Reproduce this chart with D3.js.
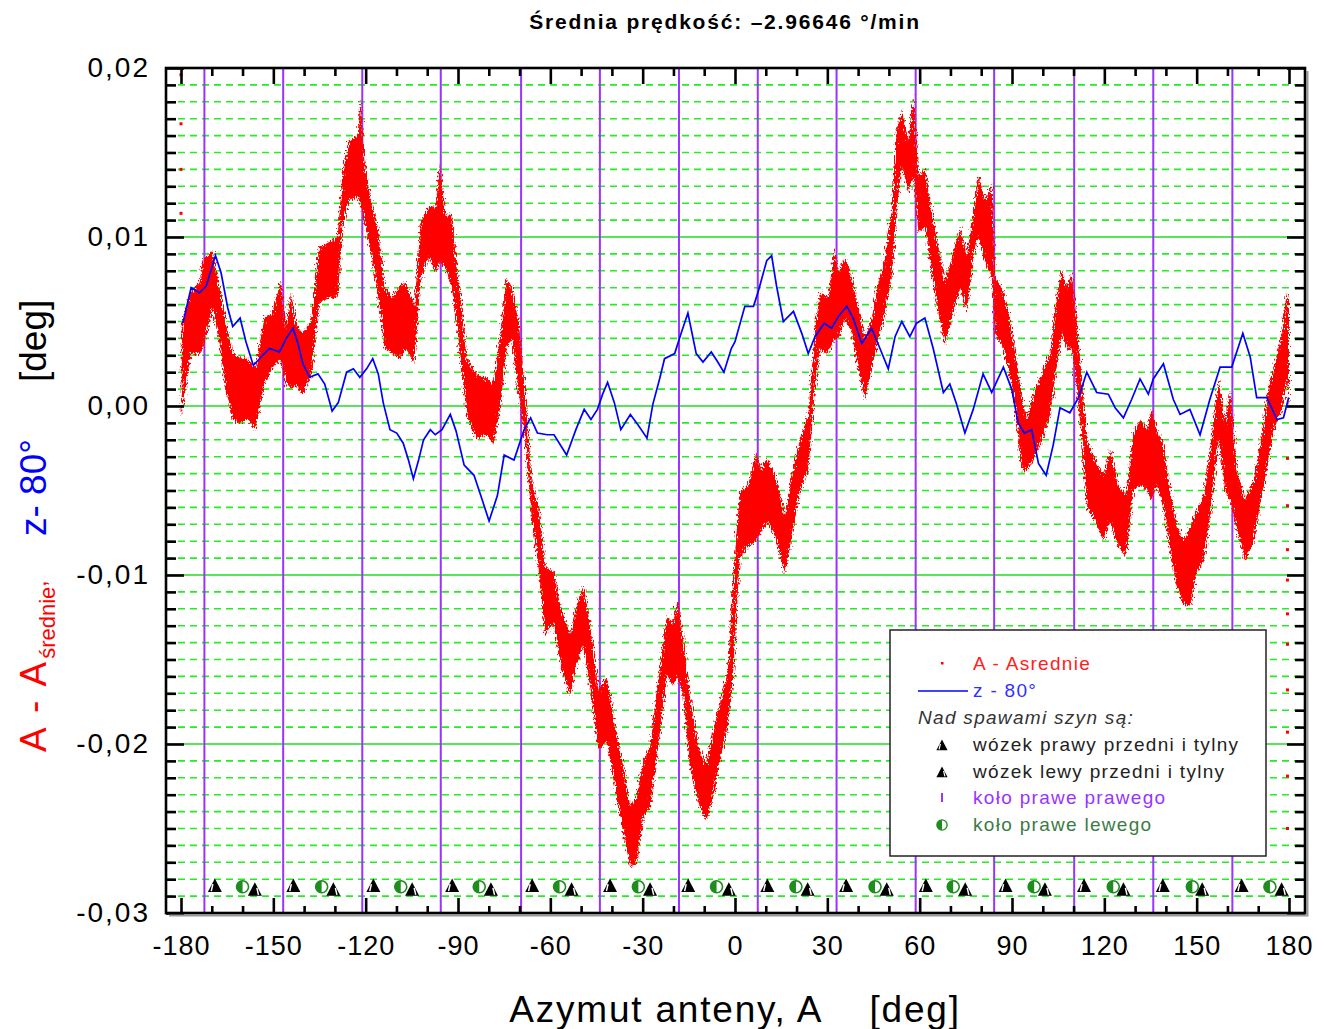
<!DOCTYPE html>
<html>
<head>
<meta charset="utf-8">
<script src="https://cdn.jsdelivr.net/npm/d3@7"></script>
<style>
  body { margin: 0; background: #fff; }
  svg text { font-family: "Liberation Sans", Arial, sans-serif; }
</style>
</head>
<body>
<div id="chart"></div>
<script>
// z - 80 (blue line), azimuth [deg] and value [deg]
var zAz = [-179.4, -176.7, -174, -171.8, -168.8, -167, -164.8, -163.2, -160.8, -158.9, -156.5, -154, -151.3, -148, -145.8,
    -143.6, -142, -140.4, -138.2, -135.5, -133.3, -130.9, -128.9, -126.2, -124, -121.9, -119.7, -117.7, -115.9, -114.3,
    -112.1, -109.9, -107.8, -106.1, -104.5, -102.8, -101.2, -99, -97.4, -95.2, -92.5, -90.6, -88, -84.8, -82.6, -79.9,
    -77.2, -75, -71.8, -68.5, -66.4, -64.2, -61, -58.8, -54.7, -51.7, -49, -46.8, -44.7, -43, -41.4, -39.2, -37.1, -34,
    -31.6, -28.6, -26.7, -24.5, -22.9, -19.6, -17.5, -15.3, -12.6, -10.4, -7.7, -5.6, -3.6, -1.2, 0, 3.2, 6, 7.6, 10.3,
    11.9, 13.5, 15.7, 19, 21.7, 23.8, 26, 29, 31.4, 33.6, 36.3, 38.4, 41.2, 44.4, 47.1, 49.8, 52, 54.2, 56.8, 59, 61.7,
    64.4, 67.7, 69.8, 72, 74.7, 77.4, 80.6, 83.4, 87.2, 89.9, 92, 94, 96.4, 98.6, 101.1, 103.4, 105.6, 108.8, 111.6,
    114.3, 117.5, 121.3, 123.5, 126.2, 128.9, 131.6, 134.3, 135.9, 139.2, 142.4, 144.6, 147.8, 151.1, 154.3, 157.6,
    161.4, 165, 167.4, 169.5, 172.8, 176.1, 178.2, 179.9];
var zVal = [0.0049, 0.0070, 0.0067, 0.0071, 0.0089, 0.0079, 0.0058, 0.0047, 0.0052, 0.0038, 0.0024, 0.0029, 0.0034,
    0.0032, 0.0040, 0.0046, 0.0037, 0.0025, 0.0017, 0.0019, 0.0013, -0.0003, 0.0002, 0.0020, 0.0022, 0.0017, 0.0022,
    0.0028, 0.0019, 0.0002, -0.0014, -0.0016, -0.0022, -0.0032, -0.0043, -0.0032, -0.0020, -0.0014, -0.0017, -0.0014,
    -0.0005, -0.0015, -0.0035, -0.0041, -0.0053, -0.0068, -0.0053, -0.0029, -0.0032, -0.0014, -0.0007, -0.0016,
    -0.0017, -0.0017, -0.0029, -0.0014, -0.0002, -0.0008, -0.0002, 0.0007, 0.0014, 0.0002, -0.0014, -0.0005, -0.0011,
    -0.0019, 0.0001, 0.0016, 0.0028, 0.0031, 0.0043, 0.0055, 0.0031, 0.0026, 0.0032, 0.0026, 0.0020, 0.0034, 0.0038,
    0.0059, 0.0059, 0.0068, 0.0086, 0.0089, 0.0071, 0.0050, 0.0056, 0.0043, 0.0031, 0.0041, 0.0049, 0.0046, 0.0053,
    0.0059, 0.0052, 0.0037, 0.0046, 0.0034, 0.0022, 0.0041, 0.0050, 0.0041, 0.0049, 0.0052, 0.0034, 0.0008, 0.0013,
    0.0001, -0.0016, -0.0002, 0.0019, 0.0008, 0.0023, 0.0010, -0.0010, -0.0016, -0.0014, -0.0034, -0.0041, -0.0023,
    -0.0001, -0.0004, 0.0005, 0.0020, 0.0008, 0.0007, -0.0001, -0.0007, 0.0004, 0.0016, 0.0007, 0.0016, 0.0025, 0.0004,
    -0.0005, -0.0002, -0.0017, 0.0004, 0.0023, 0.0023, 0.0043, 0.0029, 0.0005, 0.0005, -0.0008, -0.0007, 0.0005];

// A - Asrednie (red scatter band): azimuth, upper and lower edge of the band [deg]
var aAz = [-179.8, -176.9, -174, -172.9, -169.7, -167.5, -165.4, -163.2, -161.1, -158.4, -155.7, -153, -150.3, -147.6,
    -145.9, -144.3, -142.7, -140.5, -137.8, -135.1, -131.8, -129.1, -127.5, -125.3, -122.6, -121.7, -120.4, -118.3,
    -116.1, -113.9, -111.2, -109.1, -106.9, -104.2, -102.1, -99.4, -97.2, -95.9, -94, -92, -90.4, -88.8, -87.2, -84,
    -80.7, -78.5, -76.4, -74.2, -72.6, -70.4, -68.2, -66.1, -63.9, -61.7, -59, -56.3, -53.6, -51.4, -49.3, -46.6,
    -44.4, -41.7, -39, -36.3, -34.1, -32, -29.8, -27.6, -24.9, -22.2, -20.1, -18.7, -16.8, -14.7, -12, -9.3, -7.1, -5,
    -2.3, -0.5, 1.6, 4.3, 6.7, 8.7, 10.3, 13, 16.3, 18.4, 21.1, 23.8, 26, 27.6, 30.3, 32.3, 33.6, 35.7, 37.9, 40.1, 42.2,
    44.4, 46.6, 48.7, 50.9, 52.5, 54.2, 56.3, 58, 59.6, 61.8, 63.9, 66.1, 68.3, 70.4, 73.2, 75.3, 77.5, 79.1, 81.3, 83.4,
    84.5, 86.7, 88.9, 91.1, 93.2, 94.8, 96.9, 99.7, 102.4, 104.6, 106.2, 107.8, 109.4, 111.1, 112.7, 114.3, 117, 119.7,
    121.9, 124.6, 127.1, 129.4, 131.6, 133.8, 135.4, 137.1, 139.2, 141.4, 143.6, 145.7, 147.9, 150.1, 152.2, 154.4,
    157.1, 159.3, 160.9, 163.1, 165.8, 168.5, 171.2, 173.3, 175, 177.7, 179.3, 180];
var aHigh = [0.0048, 0.0067, 0.0073, 0.0086, 0.0092, 0.0070, 0.0049, 0.0031, 0.0029, 0.0028, 0.0023, 0.0052, 0.0055,
    0.0074, 0.0046, 0.0067, 0.0049, 0.0043, 0.0050, 0.0094, 0.0097, 0.0100, 0.0139, 0.0157, 0.0160, 0.0182, 0.0145,
    0.0121, 0.0106, 0.0070, 0.0064, 0.0071, 0.0073, 0.0059, 0.0109, 0.0118, 0.0118, 0.0143, 0.0112, 0.0114, 0.0082,
    0.0058, 0.0028, 0.0019, 0.0016, 0.0013, 0.0040, 0.0076, 0.0070, 0.0052, 0.0010, -0.0044, -0.0059, -0.0095, -0.0098,
    -0.0122, -0.0135, -0.0117, -0.0106, -0.0135, -0.0168, -0.0160, -0.0189, -0.0213, -0.0237, -0.0231, -0.0210,
    -0.0201, -0.0162, -0.0125, -0.0128, -0.0115, -0.0138, -0.0171, -0.0201, -0.0213, -0.0192, -0.0177, -0.0156,
    -0.0100, -0.0050, -0.0047, -0.0028, -0.0038, -0.0031, -0.0041, -0.0065, -0.0041, -0.0020, -0.0005, 0.0046, 0.0067,
    0.0064, 0.0094, 0.0079, 0.0088, 0.0076, 0.0058, 0.0040, 0.0052, 0.0073, 0.0088, 0.0115, 0.0163, 0.0175, 0.0157,
    0.0185, 0.0136, 0.0140, 0.0115, 0.0094, 0.0073, 0.0088, 0.0106, 0.0088, 0.0115, 0.0137, 0.0121, 0.0132, 0.0076,
    0.0070, 0.0055, 0.0031, 0.0005, -0.0008, 0.0007, 0.0019, 0.0031, 0.0064, 0.0082, 0.0070, 0.0079, 0.0049, 0.0016,
    -0.0020, -0.0032, -0.0041, -0.0026, -0.0047, -0.0053, -0.0017, -0.0008, -0.0014, -0.0002, -0.0014, -0.0023,
    -0.0050, -0.0071, -0.0080, -0.0071, -0.0062, -0.0053, -0.0026, 0.0016, -0.0011, 0.0010, -0.0038, -0.0056, -0.0044,
    -0.0017, 0.0010, 0.0022, 0.0043, 0.0067, 0.0064];
var aLow = [-0.0008, 0.0031, 0.0031, 0.0034, 0.0058, 0.0037, 0.0010, -0.0008, -0.0010, -0.0008, -0.0014, 0.0013, 0.0022,
    0.0028, 0.0013, 0.0010, 0.0013, 0.0007, 0.0017, 0.0061, 0.0064, 0.0064, 0.0106, 0.0122, 0.0124, 0.0120, 0.0109,
    0.0091, 0.0067, 0.0034, 0.0031, 0.0028, 0.0034, 0.0025, 0.0076, 0.0088, 0.0079, 0.0085, 0.0082, 0.0070, 0.0049,
    0.0022, -0.0005, -0.0020, -0.0017, -0.0023, -0.0002, 0.0034, 0.0040, 0.0010, -0.0020, -0.0065, -0.0095, -0.0135,
    -0.0128, -0.0156, -0.0171, -0.0153, -0.0141, -0.0171, -0.0204, -0.0198, -0.0225, -0.0252, -0.0273, -0.0270,
    -0.0243, -0.0237, -0.0201, -0.0159, -0.0165, -0.0160, -0.0171, -0.0213, -0.0234, -0.0246, -0.0231, -0.0210,
    -0.0189, -0.0156, -0.0089, -0.0083, -0.0080, -0.0074, -0.0068, -0.0077, -0.0100, -0.0077, -0.0050, -0.0038, 0.0010,
    0.0034, 0.0031, 0.0040, 0.0040, 0.0052, 0.0043, 0.0022, 0.0004, 0.0022, 0.0040, 0.0055, 0.0076, 0.0115, 0.0142,
    0.0126, 0.0136, 0.0103, 0.0106, 0.0079, 0.0055, 0.0036, 0.0052, 0.0070, 0.0055, 0.0091, 0.0100, 0.0085, 0.0076,
    0.0043, 0.0036, 0.0022, -0.0002, -0.0038, -0.0038, -0.0032, -0.0020, -0.0005, 0.0025, 0.0043, 0.0034, 0.0034,
    0.0010, -0.0020, -0.0059, -0.0068, -0.0080, -0.0068, -0.0083, -0.0089, -0.0050, -0.0047, -0.0050, -0.0056, -0.0047,
    -0.0059, -0.0086, -0.0107, -0.0117, -0.0119, -0.0098, -0.0092, -0.0065, -0.0020, -0.0050, -0.0056, -0.0074,
    -0.0092, -0.0080, -0.0053, -0.0032, -0.0014, -0.0002, 0.0016, -0.0002];

// stray red points of A - Asrednie near the ends of the scan
var strayAz = [-180, -180, -180, -180, 179.5, 179.5, 179.5, 179.5, 179.5, 179.5, 179.5, 179.5, 179.5, 179.5];
var strayVal = [0.0196, 0.0167, 0.0140, 0.0114, -0.0031, -0.0059, -0.0085, -0.0103, -0.0123, -0.0141, -0.0168,
    -0.0193, -0.0219, -0.0250];

// rail welds: azimuth of weld under right wheel of right bogie (purple lines)
var weldAz = [-172.4, -146.8, -121.1, -95.6, -69.5, -43.9, -18.2, 7.4, 33.0, 58.7, 84.2, 110.2, 135.9, 161.6];
// right bogie (front and rear), left bogie (front and rear), right wheel of left bogie
var bogieRightAz = [-169.0, -143.5, -117.5, -91.9, -65.9, -40.6, -15.2, 10.5, 36.1, 62.0, 87.9, 113.4, 139.0, 164.6];
var bogieLeftAz = [-156.0, -130.5, -104.9, -79.3, -53.1, -27.6, -2.0, 23.6, 49.3, 74.8, 100.7, 126.2, 151.8, 177.6];
var wheelLeftAz = [-160.0, -134.3, -108.6, -83.1, -57.0, -31.4, -6.0, 19.8, 45.5, 70.9, 97.2, 122.9, 148.6, 173.8];
var bogieRightLevel = -0.02838, bogieLeftLevel = -0.02860, wheelLeftLevel = -0.02845;

var xMajor = d3.range(-180, 181, 30);
var xMinor = d3.range(-170, 180, 10).filter(function (d) { return d % 30 !== 0; });
var yMajor = [-0.03, -0.02, -0.01, 0, 0.01, 0.02];
var yMinor = d3.range(-29, 20).filter(function (d) { return d % 10 !== 0; }).map(function (d) { return d / 1000; });

var title = "Średnia prędkość: \u20132.96646 °/min";

// drawing area
var width = 1325, height = 1029;
var margin = {top: 68, right: 20, bottom: 116, left: 166};
var plotR = width - margin.right, plotB = height - margin.bottom;

var svg = d3.select("#chart").append("svg")
    .attr("width", width)
    .attr("height", height);

var defs = svg.append("defs");
defs.append("clipPath").attr("id", "plotClip")
    .append("rect")
    .attr("x", margin.left).attr("y", margin.top)
    .attr("width", plotR - margin.left).attr("height", plotB - margin.top);

// roughen the edge of the red band so it reads like a dense scatter
var fuzz = defs.append("filter").attr("id", "fuzz")
    .attr("x", "-5%").attr("y", "-5%").attr("width", "110%").attr("height", "110%");
fuzz.append("feTurbulence")
    .attr("type", "fractalNoise").attr("baseFrequency", "0.9 0.35")
    .attr("numOctaves", 2).attr("seed", 3).attr("result", "noise");
fuzz.append("feDisplacementMap")
    .attr("in", "SourceGraphic").attr("in2", "noise")
    .attr("scale", 9).attr("xChannelSelector", "R").attr("yChannelSelector", "G");

var x = d3.scaleLinear().domain([-180, 180]).range([181, 1289]);
var y = d3.scaleLinear().domain([-0.03, 0.02]).range([plotB, margin.top]);

// horizontal grid
var grid = svg.append("g").attr("class", "grid");
grid.selectAll("line.minor")
    .data(yMinor)
    .enter().append("line")
    .attr("class", "minor")
    .attr("x1", margin.left).attr("x2", plotR)
    .attr("y1", function (d) { return y(d); })
    .attr("y2", function (d) { return y(d); })
    .style("stroke", "#22ee22")
    .style("stroke-width", 1.6)
    .style("stroke-dasharray", "7,5");
grid.selectAll("line.major")
    .data(yMajor)
    .enter().append("line")
    .attr("class", "major")
    .attr("x1", margin.left).attr("x2", plotR)
    .attr("y1", function (d) { return y(d); })
    .attr("y2", function (d) { return y(d); })
    .style("stroke", "#22dd22")
    .style("stroke-width", 1.4);

// weld lines
svg.append("g").selectAll("line")
    .data(weldAz)
    .enter().append("line")
    .attr("x1", function (d) { return x(d); })
    .attr("x2", function (d) { return x(d); })
    .attr("y1", margin.top).attr("y2", plotB)
    .style("stroke", "#9933ff")
    .style("stroke-width", 2);

var plot = svg.append("g").attr("clip-path", "url(#plotClip)");

// red band
var area = d3.area()
    .x(function (d, i) { return x(aAz[i]); })
    .y0(function (d, i) { return y(aLow[i]); })
    .y1(function (d, i) { return y(aHigh[i]); });

plot.append("path")
    .datum(aAz)
    .attr("d", area)
    .attr("fill", "#ff0000")
    .attr("filter", "url(#fuzz)");

plot.selectAll("rect.stray")
    .data(strayAz)
    .enter().append("rect")
    .attr("class", "stray")
    .attr("x", function (d) { return x(d) - 1.5; })
    .attr("y", function (d, i) { return y(strayVal[i]) - 1.5; })
    .attr("width", 3).attr("height", 3)
    .attr("fill", "#ff0000");

// blue line
var line = d3.line()
    .x(function (d, i) { return x(zAz[i]); })
    .y(function (d, i) { return y(zVal[i]); });

plot.append("path")
    .datum(zAz)
    .attr("d", line)
    .attr("fill", "none")
    .style("stroke", "#0000ff")
    .style("stroke-width", 1.7);

// weld markers along the bottom
function triangle(g, slit) {
    g.append("path").attr("d", "M0,-7L7,6.5L-7,6.5Z").attr("fill", "#000");
    g.append("line")
        .attr("x1", slit).attr("x2", slit + 1.6 * Math.sign(slit))
        .attr("y1", -1.5).attr("y2", 5.5)
        .style("stroke", "#fff").style("stroke-width", 1.5);
}
function halfCircle(g) {
    g.append("circle").attr("r", 6).attr("fill", "#fff")
        .style("stroke", "#1e8c1e").style("stroke-width", 1.6);
    g.append("path").attr("d", "M0,-6A6,6 0 0,0 0,6Z").attr("fill", "#1e8c1e");
}

var marks = svg.append("g");
marks.selectAll("g.br")
    .data(bogieRightAz)
    .enter().append("g")
    .attr("class", "br")
    .attr("transform", function (d) { return "translate(" + x(d) + "," + y(bogieRightLevel) + ")"; })
    .each(function () { triangle(d3.select(this), -2); });
marks.selectAll("g.wl")
    .data(wheelLeftAz)
    .enter().append("g")
    .attr("class", "wl")
    .attr("transform", function (d) { return "translate(" + x(d) + "," + y(wheelLeftLevel) + ")"; })
    .each(function () { halfCircle(d3.select(this)); });
marks.selectAll("g.bl")
    .data(bogieLeftAz)
    .enter().append("g")
    .attr("class", "bl")
    .attr("transform", function (d) { return "translate(" + x(d) + "," + y(bogieLeftLevel) + ")"; })
    .each(function () { triangle(d3.select(this), 2); });

// axes, ticks pointing into the plot
function styleAxis(g) {
    g.select(".domain").remove();
    g.selectAll(".tick line").style("stroke", "#000").style("stroke-width", 2.6);
    g.selectAll(".tick text").style("fill", "#000");
}
var fmtX = function (d) { return String(d); };
var fmtY = function (d) { return d3.format(".2f")(d).replace(".", ",").replace("\u2212", "-"); };

svg.append("g").attr("transform", "translate(0," + plotB + ")")
    .call(d3.axisBottom(x).tickValues(xMajor).tickSize(-15).tickPadding(23).tickFormat(fmtX))
    .call(styleAxis)
    .selectAll(".tick text").style("font-size", "27px").style("letter-spacing", "1px");
svg.append("g").attr("transform", "translate(0," + plotB + ")")
    .call(d3.axisBottom(x).tickValues(xMinor).tickSize(-7).tickFormat(""))
    .call(styleAxis);
svg.append("g").attr("transform", "translate(0," + margin.top + ")")
    .call(d3.axisTop(x).tickValues(xMajor).tickSize(-16).tickFormat(""))
    .call(styleAxis);
svg.append("g").attr("transform", "translate(0," + margin.top + ")")
    .call(d3.axisTop(x).tickValues(xMinor).tickSize(-8).tickFormat(""))
    .call(styleAxis);

svg.append("g").attr("transform", "translate(" + margin.left + ",0)")
    .call(d3.axisLeft(y).tickValues(yMajor).tickSize(-18).tickPadding(16).tickFormat(fmtY))
    .call(styleAxis)
    .selectAll(".tick text").style("font-size", "28px").style("letter-spacing", "2px");
svg.append("g").attr("transform", "translate(" + margin.left + ",0)")
    .call(d3.axisLeft(y).tickValues(yMinor).tickSize(-10).tickFormat(""))
    .call(styleAxis);
svg.append("g").attr("transform", "translate(" + plotR + ",0)")
    .call(d3.axisRight(y).tickValues(yMajor).tickSize(-18).tickFormat(""))
    .call(styleAxis);
svg.append("g").attr("transform", "translate(" + plotR + ",0)")
    .call(d3.axisRight(y).tickValues(yMinor).tickSize(-10).tickFormat(""))
    .call(styleAxis);

// frame with a light shadow
svg.append("path")
    .attr("d", "M" + (margin.left + 3) + "," + (plotB + 2.5) + "H" + (plotR + 2.5) + "V" + (margin.top + 3))
    .attr("fill", "none")
    .style("stroke", "#999").style("stroke-width", 2);
svg.append("rect")
    .attr("x", margin.left).attr("y", margin.top)
    .attr("width", plotR - margin.left).attr("height", plotB - margin.top)
    .attr("fill", "none")
    .style("stroke", "#000").style("stroke-width", 2.6);

// titles
svg.append("text")
    .attr("x", 725).attr("y", 29)
    .attr("text-anchor", "middle")
    .style("font-size", "21px").style("font-weight", "bold").style("letter-spacing", "1.8px")
    .text(title);

svg.append("text")
    .attr("x", 735).attr("y", 1022)
    .attr("text-anchor", "middle")
    .style("font-size", "37px").style("letter-spacing", "1.8px").style("white-space", "pre")
    .text("Azymut anteny, A    [deg]");

var yt = svg.append("text")
    .attr("transform", "translate(46,752) rotate(-90)")
    .style("font-size", "37px").style("fill", "#ff0000");
yt.append("tspan").style("letter-spacing", "3px").text("A - A");
yt.append("tspan").attr("dy", 9).style("font-size", "22px").text("średnie");
yt.append("tspan").attr("dy", -9).style("font-size", "22px").text(",");

svg.append("text")
    .attr("transform", "translate(46,536) rotate(-90)")
    .style("font-size", "37px").style("fill", "#0000ff")
    .text("z- 80°");
svg.append("text")
    .attr("transform", "translate(46,382) rotate(-90)")
    .style("font-size", "37px").style("fill", "#000")
    .text("[deg]");

// legend
var lg = svg.append("g").attr("transform", "translate(890,630)");
lg.append("rect")
    .attr("width", 376).attr("height", 226)
    .attr("fill", "#fff")
    .style("stroke", "#222").style("stroke-width", 1.5);

var lgText = [
    {t: "A - Asrednie", c: "#ff2020", y: 40},
    {t: "z - 80°", c: "#3030ff", y: 67},
    {t: "wózek prawy przedni i tylny", c: "#222", y: 121},
    {t: "wózek lewy przedni i tylny", c: "#222", y: 148},
    {t: "koło prawe prawego", c: "#9933ff", y: 174},
    {t: "koło prawe lewego", c: "#3d7a45", y: 201}
];
lg.selectAll("text.item")
    .data(lgText)
    .enter().append("text")
    .attr("class", "item")
    .attr("x", 83)
    .attr("y", function (d) { return d.y; })
    .style("font-size", "19px").style("letter-spacing", "1.3px")
    .style("fill", function (d) { return d.c; })
    .text(function (d) { return d.t; });
lg.append("text")
    .attr("x", 28).attr("y", 94)
    .style("font-size", "19px").style("font-style", "italic").style("letter-spacing", "1.3px")
    .style("fill", "#333")
    .text("Nad spawami szyn są:");

lg.append("rect").attr("x", 51).attr("y", 32).attr("width", 2.5).attr("height", 2.5).attr("fill", "#ff0000");
lg.append("line").attr("x1", 28).attr("x2", 78).attr("y1", 61).attr("y2", 61)
    .style("stroke", "#0000ff").style("stroke-width", 1.7);
triangle(lg.append("g").attr("transform", "translate(52,115) scale(0.8)"), -2);
triangle(lg.append("g").attr("transform", "translate(52,142) scale(0.8)"), 2);
lg.append("line").attr("x1", 52).attr("x2", 52).attr("y1", 163).attr("y2", 172)
    .style("stroke", "#9933ff").style("stroke-width", 2);
halfCircle(lg.append("g").attr("transform", "translate(52,195) scale(0.85)"));
</script>
</body>
</html>
